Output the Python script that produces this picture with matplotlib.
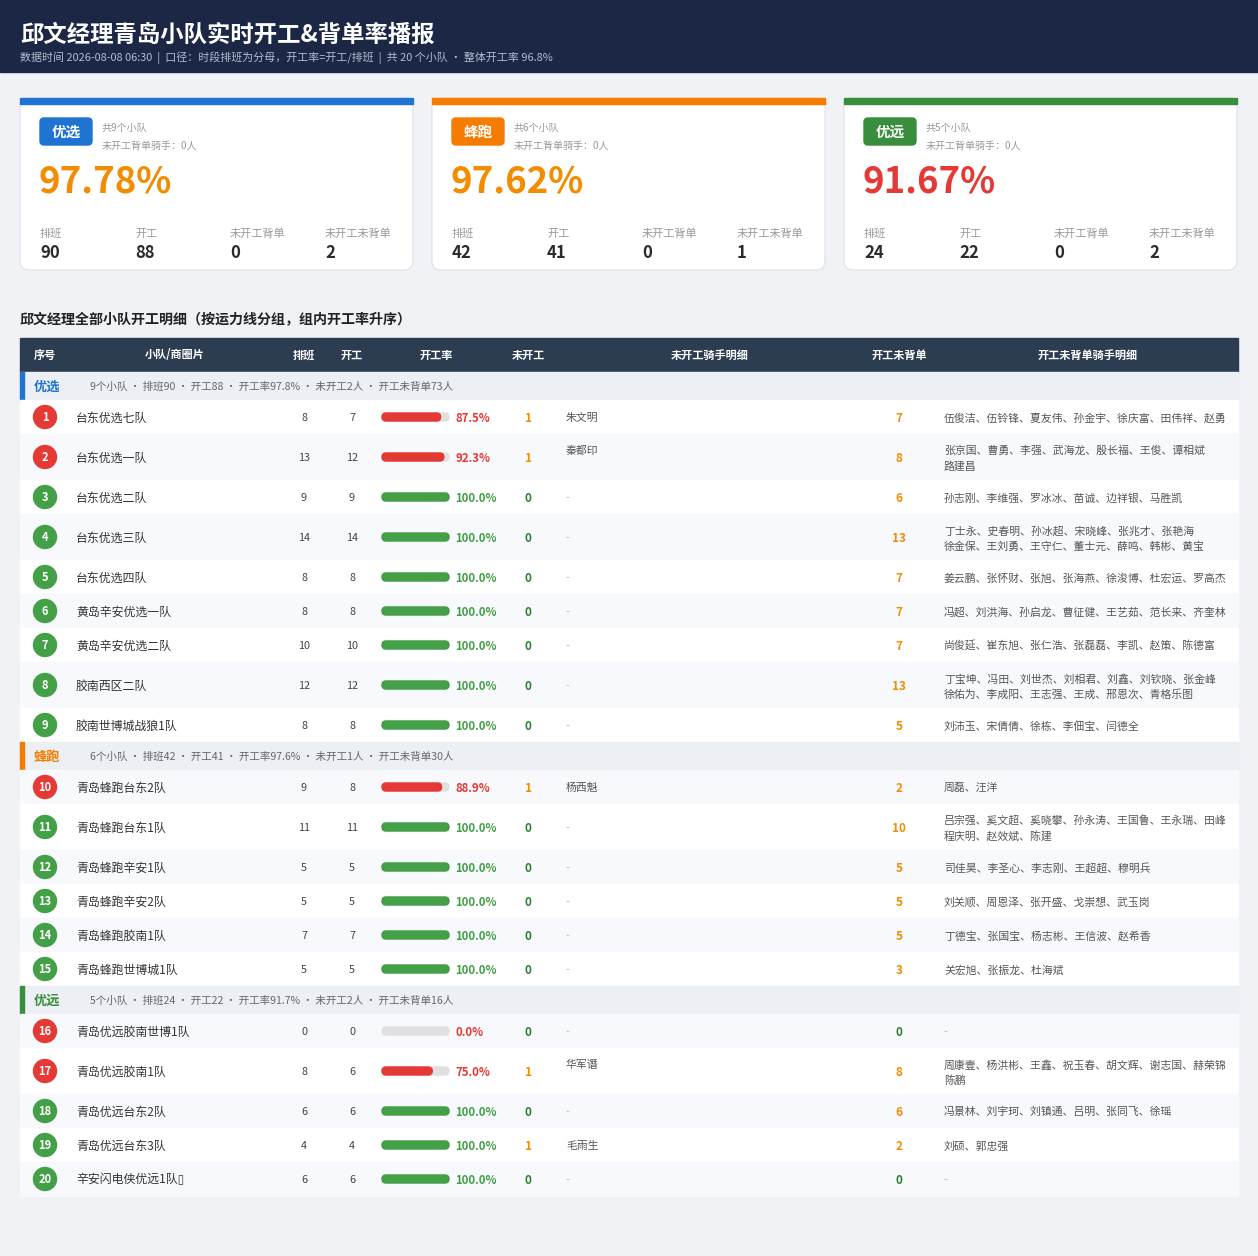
import matplotlib
matplotlib.use("Agg")
import matplotlib.pyplot as plt
from matplotlib.patches import Rectangle, FancyBboxPatch, Circle

plt.rcParams['font.family'] = ['Noto Sans CJK SC', 'DejaVu Sans']

title = "邱文经理青岛小队实时开工&背单率播报"
data_time = "2026-08-08 06:30"
section_title = "邱文经理全部小队开工明细（按运力线分组，组内开工率升序）"

groups = ["优选", "蜂跑", "优远"]
group_beidan = [0, 0, 0]   # 未开工背单骑手

teams = ["台东优选七队", "台东优选一队", "台东优选二队", "台东优选三队", "台东优选四队",
         "黄岛辛安优选一队", "黄岛辛安优选二队", "胶南西区二队", "胶南世博城战狼1队",
         "青岛蜂跑台东2队", "青岛蜂跑台东1队", "青岛蜂跑辛安1队", "青岛蜂跑辛安2队",
         "青岛蜂跑胶南1队", "青岛蜂跑世博城1队",
         "青岛优远胶南世博1队", "青岛优远胶南1队", "青岛优远台东2队", "青岛优远台东3队",
         "辛安闪电侠优远1队\u25af"]
team_group = [0] * 9 + [1] * 6 + [2] * 5
paiban = [8, 13, 9, 14, 8, 8, 10, 12, 8, 9, 11, 5, 5, 7, 5, 0, 8, 6, 4, 6]
kaigong = [7, 12, 9, 14, 8, 8, 10, 12, 8, 8, 11, 5, 5, 7, 5, 0, 6, 6, 4, 6]
weikaigong = [1, 1, 0, 0, 0, 0, 0, 0, 0, 1, 0, 0, 0, 0, 0, 0, 1, 0, 1, 0]
weikaigong_riders = ["朱文明", "秦都印", "", "", "", "", "", "", "",
                     "杨西魁", "", "", "", "", "",
                     "", "华军谮", "", "毛雨生", ""]
weibeidan = [7, 8, 6, 13, 7, 7, 7, 13, 5, 2, 10, 5, 5, 5, 3, 0, 8, 6, 2, 0]
weibeidan_riders = [
    "伍俊洁、伍铃锋、夏友伟、孙金宇、徐庆富、田伟祥、赵勇",
    "张京国、曹勇、李强、武海龙、殷长福、王俊、谭相斌、路建昌",
    "孙志刚、李维强、罗冰冰、苗诚、边祥银、马胜凯",
    "丁士永、史春明、孙冰超、宋晓峰、张兆才、张艳海、徐金保、王刘勇、王守仁、董士元、薛鸣、韩彬、黄宝",
    "姜云鹏、张怀财、张旭、张海燕、徐浚博、杜宏运、罗高杰",
    "冯超、刘洪海、孙启龙、曹征健、王艺茹、范长来、齐奎林",
    "尚俊延、崔东旭、张仁浩、张磊磊、李凯、赵策、陈德富",
    "丁宝坤、冯田、刘世杰、刘相君、刘鑫、刘钦晓、张金峰、徐佑为、李成阳、王志强、王成、邢恩次、青格乐图",
    "刘沛玉、宋倩倩、徐栋、李佃宝、闫德全",
    "周磊、汪洋",
    "吕宗强、奚文超、奚晓攀、孙永涛、王国鲁、王永瑞、田峰、程庆明、赵效斌、陈建",
    "司佳昊、李圣心、李志刚、王超超、穆明兵",
    "刘关顺、周恩泽、张开盛、戈崇想、武玉岗",
    "丁德宝、张国宝、杨志彬、王信波、赵希香",
    "关宏旭、张振龙、杜海斌",
    "",
    "周康壹、杨洪彬、王鑫、祝玉春、胡文辉、谢志国、赫荣锦、陈鹏",
    "冯景林、刘宇珂、刘镇通、吕明、张同飞、徐瑶",
    "刘硕、郭忠强",
    "",
]

# colours
BG = "#f0f2f6"
NAVY = "#1b2745"
HEAD = "#2c3d52"
GROUP_BG = "#eceff3"
ALT = "#f7f9fc"
RED = "#e53935"
GREEN = "#43a047"
DGREEN = "#2e7d32"
ORANGE = "#f28c00"
group_colors = ["#1e74d0", "#f57c00", "#388e3c"]


def txt(x, y, s, size=8.5, color="#333333", weight="normal", ha="left", va="center"):
    # +1px: CJK text sits a touch low in the reference
    ax.text(x, y + 1, s, fontsize=size, color=color, fontweight=weight, ha=ha, va=va)


def wrap_names(s, limit=26):
    lines, cur = [], ""
    for n in s.split("、"):
        cand = n if not cur else cur + "、" + n
        if len(cand) > limit and cur:
            lines.append(cur)
            cur = n
        else:
            cur = cand
    if cur:
        lines.append(cur)
    return lines


def rate(k, p):
    return k / p if p else 0.0


fig = plt.figure(figsize=(12.58, 12.56), dpi=100)
fig.patch.set_facecolor(BG)
ax = fig.add_axes([0, 0, 1, 1])
ax.set_xlim(0, 1258)
ax.set_ylim(1256, 0)
ax.axis("off")

# header
ax.add_patch(Rectangle((0, 0), 1258, 72, color=NAVY))
txt(20, 34, title, 16.8, "white", "bold")
total_pb, total_kg = sum(paiban), sum(kaigong)
sub = (f"数据时间 {data_time}  |  口径：时段排班为分母，开工率=开工/排班  |  "
       f"共 {len(teams)} 个小队 · 整体开工率 {rate(total_kg, total_pb) * 100:.1f}%")
txt(20, 57, sub, 7.9, "#b3bdd0")

# group stats
stats = []
for g in range(len(groups)):
    idx = [i for i in range(len(teams)) if team_group[i] == g]
    stats.append(dict(
        n=len(idx),
        pb=sum(paiban[i] for i in idx),
        kg=sum(kaigong[i] for i in idx),
        wk=sum(weikaigong[i] for i in idx),
        wb=sum(weibeidan[i] for i in idx),
        idx=idx,
    ))

# cards
for g, name in enumerate(groups):
    st = stats[g]
    x0 = 20 + g * 412
    ax.add_patch(FancyBboxPatch((x0, 98), 393, 172, boxstyle="round,pad=0,rounding_size=9",
                                facecolor="white", edgecolor="#dde1e8", lw=0.8))
    ax.add_patch(Rectangle((x0, 98), 393, 6, color=group_colors[g]))
    ax.add_patch(FancyBboxPatch((x0 + 20, 118), 52, 27, boxstyle="round,pad=0,rounding_size=4",
                                color=group_colors[g]))
    txt(x0 + 46, 131, name, 10.5, "white", "bold", ha="center")
    txt(x0 + 82, 127, f"共{st['n']}个小队", 7.2, "#999999")
    txt(x0 + 82, 145, f"未开工背单骑手：{group_beidan[g]}人", 7.2, "#999999")
    r = rate(st["kg"], st["pb"]) * 100
    pc = ORANGE if r >= 95 else RED
    if r >= 100:
        pc = GREEN
    txt(x0 + 19, 181, f"{r:.2f}%", 26.3, pc, "bold")
    labels = ["排班", "开工", "未开工背单", "未开工未背单"]
    vals = [st["pb"], st["kg"], group_beidan[g], st["wk"] - group_beidan[g]]
    for k in range(4):
        txt(x0 + 20 + k * 95, 233, labels[k], 8, "#999999")
        txt(x0 + 20 + k * 95, 252, str(vals[k]), 12, "#2b2b2b", "bold")

# section title
txt(20, 319, section_title, 10.1, "#222222", "bold")

# table header
ax.add_patch(Rectangle((20, 338), 1218, 34, color=HEAD))
cols = [("序号", 45), ("小队/商圈片", 175), ("排班", 304), ("开工", 352), ("开工率", 436),
        ("未开工", 528), ("未开工骑手明细", 710), ("开工未背单", 899), ("开工未背单骑手明细", 1088)]
for lab, cx in cols:
    txt(cx, 354, lab, 8, "white", "bold", ha="center")

y = 372
for g, name in enumerate(groups):
    st = stats[g]
    ax.add_patch(Rectangle((20, y), 1218, 28, color=GROUP_BG))
    ax.add_patch(Rectangle((20, y), 4, 28, color=group_colors[g]))
    txt(34, y + 14, name, 9.5, group_colors[g], "bold")
    summ = (f"{st['n']}个小队 · 排班{st['pb']} · 开工{st['kg']} · "
            f"开工率{rate(st['kg'], st['pb']) * 100:.1f}% · 未开工{st['wk']}人 · 开工未背单{st['wb']}人")
    txt(90, y + 14, summ, 7.6, "#666666")
    y += 28
    for i in st["idx"]:
        lines = wrap_names(weibeidan_riders[i]) if weibeidan_riders[i] else []
        h = 46 if len(lines) > 1 else 34
        yc = y + h / 2
        ax.add_patch(Rectangle((20, y), 1218, h, color=ALT if (i + 1) % 2 == 0 else "white"))
        r = rate(kaigong[i], paiban[i])
        full = r >= 1
        ccol = GREEN if full else RED
        ax.add_patch(Circle((45, yc), 11.5, color=ccol))
        txt(45, yc - 0.5, str(i + 1), 8, "white", "bold", ha="center")
        txt(76, yc, teams[i], 8.6, "#333333")
        txt(304, yc, str(paiban[i]), 7.8, "#444444", ha="center")
        txt(352, yc, str(kaigong[i]), 7.8, "#444444", ha="center")
        ax.add_patch(FancyBboxPatch((382, yc - 4), 67, 8, boxstyle="round,pad=0,rounding_size=4",
                                    color="#e0e0e0"))
        if r > 0:
            ax.add_patch(FancyBboxPatch((382, yc - 4), 67 * r, 8,
                                        boxstyle="round,pad=0,rounding_size=4", color=ccol))
        txt(455, yc, f"{r * 100:.1f}%", 8.2, ccol, "bold")
        wk = weikaigong[i]
        txt(528, yc, str(wk), 8.5, ORANGE if wk else DGREEN, "bold", ha="center")
        ytop = yc - 7 if len(lines) > 1 else yc
        if weikaigong_riders[i]:
            txt(566, ytop, weikaigong_riders[i], 7.8, "#555555")
        else:
            txt(566, yc, "-", 7.8, "#bbbbbb")
        wb = weibeidan[i]
        txt(899, yc, str(wb), 8.5, ORANGE if wb else DGREEN, "bold", ha="center")
        if lines:
            for k, ln in enumerate(lines):
                txt(944, ytop + k * 15.5, ln, 7.8, "#555555")
        else:
            txt(944, yc, "-", 7.8, "#bbbbbb")
        y += h

fig.savefig("out.png", dpi=100, facecolor=BG)
